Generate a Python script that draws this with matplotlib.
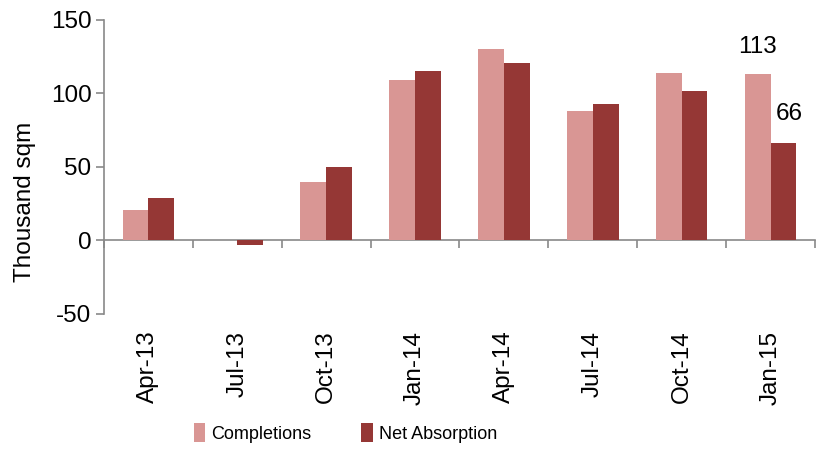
import matplotlib
matplotlib.use("Agg")
import matplotlib.pyplot as plt
import numpy as np

categories = ["Apr-13", "Jul-13", "Oct-13", "Jan-14", "Apr-14", "Jul-14", "Oct-14", "Jan-15"]
completions = [21, 0, 40, 109, 130, 88, 114, 113]
net_absorption = [29, -3, 50, 115, 121, 93, 102, 66]

plt.rcParams['font.family'] = ['Liberation Sans', 'DejaVu Sans']
plt.rcParams['axes.unicode_minus'] = False
c_comp = "#D99694"
c_na = "#953735"
gray = "#898989"
fs = 17.5

fig = plt.figure(figsize=(8.2, 4.51), dpi=100)
ax = fig.add_axes([0.1268, 0.3038, 0.8671, 0.6519])

x = np.arange(len(categories))
w = 0.29
ax.bar(x - w/2, completions, w, color=c_comp, label="Completions", zorder=2)
ax.bar(x + w/2, net_absorption, w, color=c_na, label="Net Absorption", zorder=2)

ax.set_xlim(-0.5, len(categories) - 0.5)
ax.set_ylim(-50, 150)
ax.set_yticks([-50, 0, 50, 100, 150])
ax.tick_params(axis='y', labelsize=fs, direction='out', length=6, color=gray, width=1.2, pad=3)
ax.set_ylabel("Thousand sqm", fontsize=fs)
ax.yaxis.set_label_coords(-0.096, 0.38)

for s in ["top", "right", "bottom"]:
    ax.spines[s].set_visible(False)
ax.spines["left"].set_color(gray)
ax.spines["left"].set_linewidth(1.2)

ax.set_xticks(x)
ax.set_xticklabels(categories, rotation=90, fontsize=fs)
ax.tick_params(axis='x', length=0, pad=12)

sec = ax.secondary_xaxis(0.25)
sec.set_xticks(np.arange(-0.5, len(categories)))
sec.set_xticklabels([])
sec.tick_params(axis='x', direction='out', length=6, color=gray, width=1.2)
sec.spines["bottom"].set_color(gray)
sec.spines["bottom"].set_linewidth(1.2)

ax.annotate(str(completions[-1]), (x[-1] - w/2, completions[-1]), xytext=(0, 16),
            textcoords='offset pixels', ha='center', va='bottom', fontsize=fs)
ax.annotate(str(net_absorption[-1]), (x[-1] + w/2, net_absorption[-1]), xytext=(6, 18),
            textcoords='offset pixels', ha='center', va='bottom', fontsize=fs)

fig.legend(loc='center', bbox_to_anchor=(0.421, 0.04), ncol=2, frameon=False,
           prop={'size': 13},
           handlelength=0.65, handleheight=1.2, handletextpad=0.3, columnspacing=2.8)

fig.savefig("out.png", dpi=100)
